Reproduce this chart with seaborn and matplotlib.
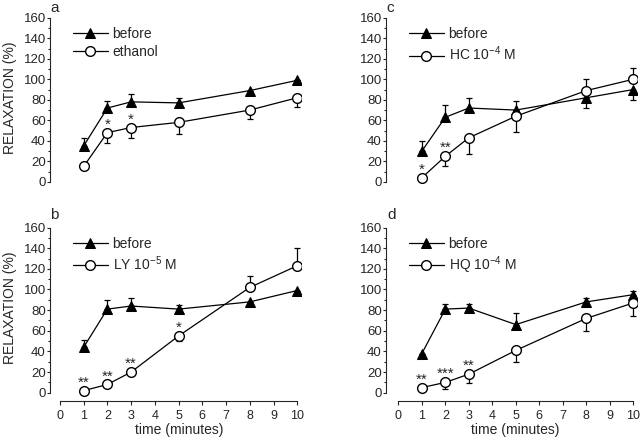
import matplotlib
matplotlib.use("Agg")
import matplotlib.pyplot as plt
import seaborn as sns
from matplotlib.ticker import MultipleLocator

sns.set_style("ticks")
plt.rcParams['font.family'] = ['Liberation Sans', 'DejaVu Sans']
plt.rcParams['mathtext.fontset'] = 'custom'
plt.rcParams['mathtext.rm'] = 'Liberation Sans'
plt.rcParams['mathtext.it'] = 'Liberation Sans:italic'

time = [1, 2, 3, 5, 8, 10]

# panel a
a_before = [35, 72, 78, 77, 89, 99]
a_before_up = [8, 7, 8, 5, 0, 0]
a_before_dn = [0, 0, 0, 0, 0, 0]
a_treat = [15, 48, 53, 58, 70, 82]
a_treat_up = [0, 0, 0, 0, 0, 0]
a_treat_dn = [0, 10, 10, 11, 9, 9]
a_stars = ['', '*', '*', '', '', '']

# panel b
b_before = [44, 81, 84, 81, 88, 99]
b_before_up = [7, 9, 8, 4, 0, 0]
b_before_dn = [0, 0, 0, 0, 0, 0]
b_treat = [2, 8, 20, 55, 102, 123]
b_treat_up = [0, 0, 0, 0, 11, 17]
b_treat_dn = [2, 0, 0, 5, 0, 0]
b_stars = ['**', '**', '**', '*', '', '']

# panel c
c_before = [30, 63, 72, 70, 82, 90]
c_before_up = [10, 12, 10, 9, 0, 0]
c_before_dn = [0, 0, 0, 0, 10, 10]
c_treat = [4, 25, 43, 64, 89, 100]
c_treat_up = [0, 0, 0, 0, 11, 11]
c_treat_dn = [0, 10, 16, 15, 0, 0]
c_stars = ['*', '**', '', '', '', '']

# panel d
d_before = [38, 81, 82, 66, 88, 95]
d_before_up = [0, 5, 4, 11, 4, 4]
d_before_dn = [0, 0, 0, 0, 0, 0]
d_treat = [5, 10, 18, 41, 72, 87]
d_treat_up = [0, 0, 0, 0, 0, 0]
d_treat_dn = [3, 6, 9, 11, 12, 13]
d_stars = ['**', '***', '**', '', '', '']

fig = plt.figure(figsize=(6.4, 4.38), dpi=100)
ax_a = fig.add_axes([0.078, 0.566, 0.392, 0.397])
ax_c = fig.add_axes([0.603, 0.566, 0.392, 0.397])
ax_b = fig.add_axes([0.078, 0.0845, 0.392, 0.3995])
ax_d = fig.add_axes([0.603, 0.0845, 0.392, 0.3995])


def draw_panel(ax, before, b_up, b_dn, treat, t_up, t_dn, stars, label, bottom, left):
    ax.errorbar(time, before, yerr=[b_dn, b_up], fmt='none', ecolor='black',
                elinewidth=0.9, capsize=2.5, capthick=0.9, zorder=2)
    ax.errorbar(time, treat, yerr=[t_dn, t_up], fmt='none', ecolor='black',
                elinewidth=0.9, capsize=2.5, capthick=0.9, zorder=2)
    sns.lineplot(x=time, y=before, ax=ax, color='black', linewidth=0.9,
                 marker='^', markersize=7.5, markerfacecolor='black',
                 markeredgecolor='black', label='before', zorder=3)
    sns.lineplot(x=time, y=treat, ax=ax, color='black', linewidth=0.9,
                 marker='o', markersize=7, markerfacecolor='white',
                 markeredgecolor='black', markeredgewidth=1, label=label, zorder=4)
    for x, y, s in zip(time, treat, stars):
        if s:
            ax.text(x, y + 4, s, ha='center', va='baseline', fontsize=11)

    ax.set_ylim(-8, 161.5)
    ax.set_xlim(-0.42 if left else -0.53, 10.15)
    ax.yaxis.set_major_locator(MultipleLocator(20))
    ax.yaxis.set_minor_locator(MultipleLocator(10))
    ax.spines['top'].set_visible(False)
    ax.spines['right'].set_visible(False)
    ax.spines['left'].set_bounds(0, 160)
    ax.tick_params(axis='y', which='major', length=2.5, width=0.8, pad=0.5, labelsize=9.5)
    ax.tick_params(axis='y', which='minor', length=1.5, width=0.8)
    if bottom:
        ax.spines['bottom'].set_bounds(0, 10)
        ax.set_xticks(range(0, 11))
        ax.tick_params(axis='x', length=3, width=0.8, pad=3.5, labelsize=9)
        ax.set_xlabel('time (minutes)', fontsize=10)
        ax.xaxis.set_label_coords(0.514, -0.125)
    else:
        ax.spines['bottom'].set_visible(False)
        ax.set_xticks([])
    if left:
        ax.set_ylabel('RELAXATION (%)', fontsize=10)
        ax.yaxis.set_label_coords(-0.13, 0.53)
    for sp in ax.spines.values():
        sp.set_linewidth(0.8)

    ax.legend(loc='upper left', bbox_to_anchor=(0.092, 0.94), frameon=False,
              fontsize=10, handlelength=2.5, handletextpad=0.35, labelspacing=0.3,
              borderpad=0, borderaxespad=0)


draw_panel(ax_a, a_before, a_before_up, a_before_dn, a_treat, a_treat_up, a_treat_dn,
           a_stars, 'ethanol', False, True)
draw_panel(ax_c, c_before, c_before_up, c_before_dn, c_treat, c_treat_up, c_treat_dn,
           c_stars, r'HC 10$^{-4}$ M', False, False)
draw_panel(ax_b, b_before, b_before_up, b_before_dn, b_treat, b_treat_up, b_treat_dn,
           b_stars, r'LY 10$^{-5}$ M', True, True)
draw_panel(ax_d, d_before, d_before_up, d_before_dn, d_treat, d_treat_up, d_treat_dn,
           d_stars, r'HQ 10$^{-4}$ M', True, False)

fig.text(50 / 640, 1 - 1 / 438, 'a', fontsize=11, va='top', ha='left')
fig.text(386 / 640, 1 - 1 / 438, 'c', fontsize=11, va='top', ha='left')
fig.text(50 / 640, 1 - 208 / 438, 'b', fontsize=11, va='top', ha='left')
fig.text(387 / 640, 1 - 208 / 438, 'd', fontsize=11, va='top', ha='left')

fig.savefig('out.png', dpi=100)
